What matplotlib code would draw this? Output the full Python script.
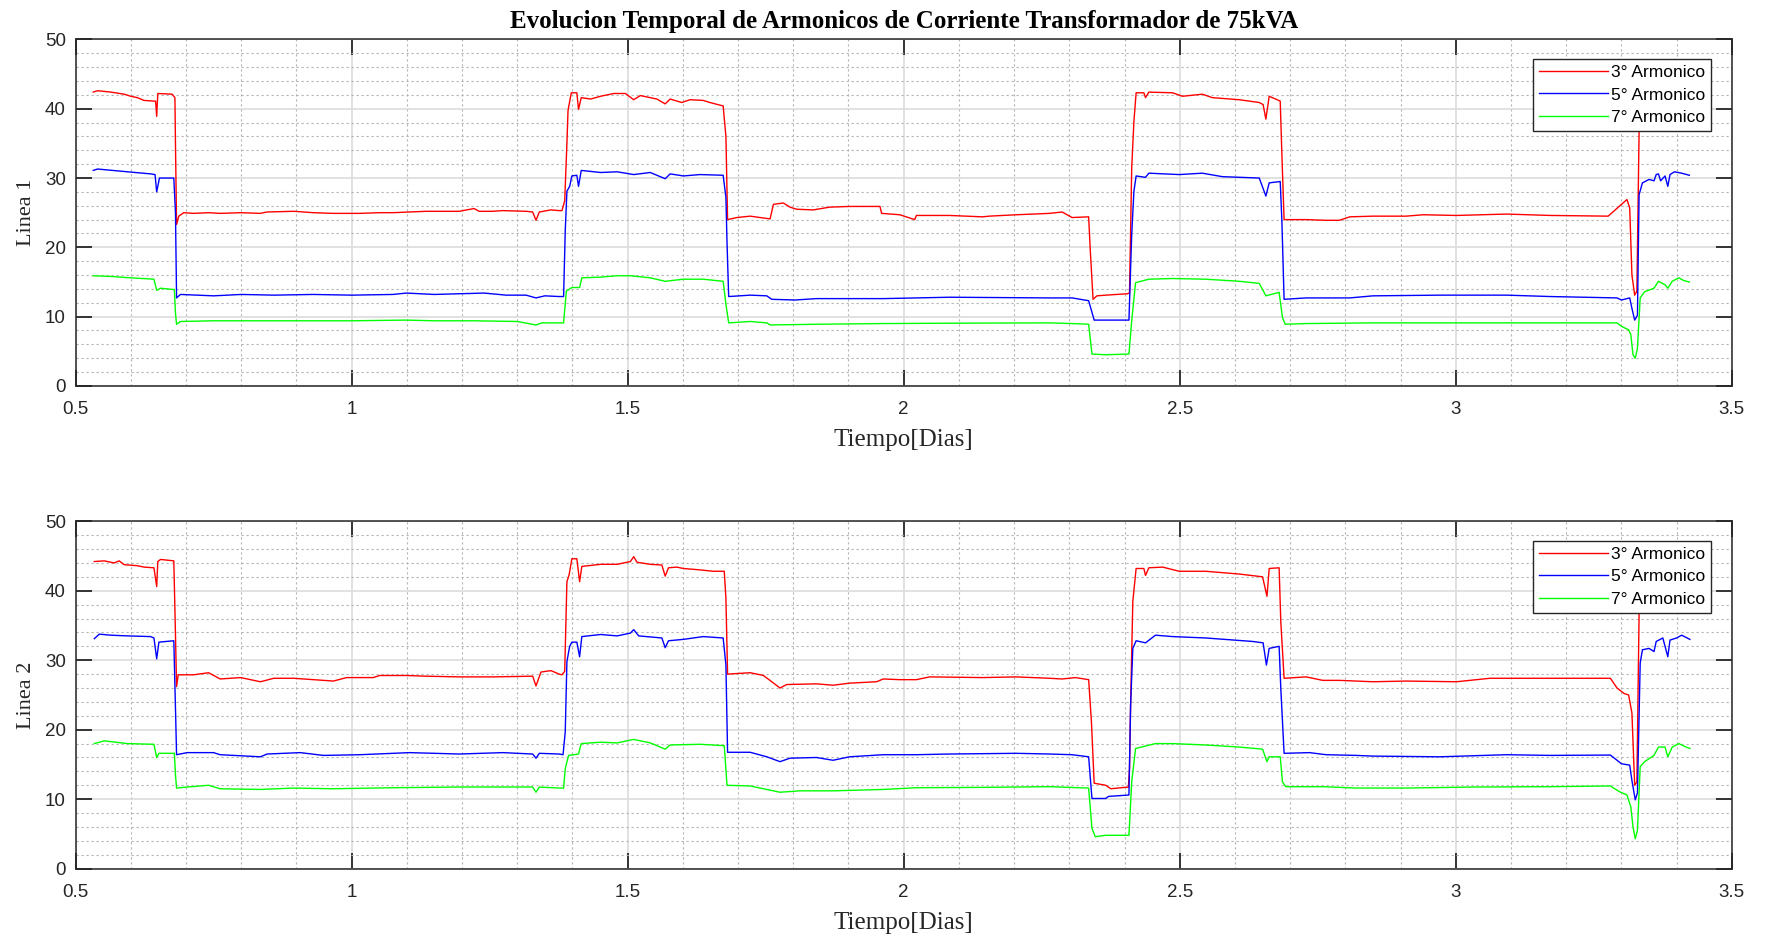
import matplotlib
matplotlib.use('Agg')
import matplotlib.pyplot as plt
from matplotlib.ticker import MultipleLocator, FormatStrFormatter

# Linea 1 - 3er armonico
l1_x3 = [0.532, 0.540, 0.552, 0.564, 0.588, 0.600, 0.612, 0.624, 0.642, 0.645, 0.647, 0.649, 0.675, 0.680,
         0.681, 0.683, 0.687, 0.696, 0.714, 0.741, 0.762, 0.799, 0.835, 0.847, 0.895, 0.931, 0.967, 1.015,
         1.051, 1.075, 1.105, 1.135, 1.195, 1.222, 1.231, 1.256, 1.274, 1.316, 1.328, 1.334, 1.340, 1.361,
         1.376, 1.381, 1.386, 1.390, 1.392, 1.393, 1.398, 1.408, 1.411, 1.416, 1.433, 1.451, 1.475, 1.496,
         1.511, 1.523, 1.553, 1.568, 1.577, 1.598, 1.613, 1.637, 1.649, 1.673, 1.678, 1.681, 1.698, 1.722,
         1.758, 1.764, 1.782, 1.794, 1.806, 1.836, 1.866, 1.902, 1.957, 1.960, 1.993, 2.020, 2.023, 2.083,
         2.143, 2.155, 2.204, 2.264, 2.287, 2.305, 2.335, 2.338, 2.343, 2.350, 2.366, 2.405, 2.409, 2.411,
         2.413, 2.417, 2.421, 2.435, 2.438, 2.444, 2.487, 2.505, 2.541, 2.559, 2.608, 2.644, 2.651, 2.656,
         2.662, 2.682, 2.685, 2.689, 2.729, 2.765, 2.789, 2.808, 2.850, 2.910, 2.941, 3.001, 3.092, 3.171,
         3.276, 3.296, 3.310, 3.315, 3.319, 3.324, 3.328, 3.332, 3.336, 3.423]
l1_y3 = [42.4, 42.6, 42.5, 42.4, 42.1, 41.8, 41.6, 41.2, 41.1, 41.1, 38.9, 42.2, 42.1, 41.6,
         35.0, 23.3, 24.5, 25.0, 24.9, 25.0, 24.9, 25.0, 24.9, 25.1, 25.2, 25.0, 24.9, 24.9,
         25.0, 25.0, 25.1, 25.2, 25.2, 25.6, 25.2, 25.2, 25.3, 25.2, 25.1, 23.9, 25.1, 25.4,
         25.3, 25.3, 26.7, 35.0, 39.7, 40.2, 42.3, 42.3, 39.9, 41.6, 41.4, 41.8, 42.2, 42.2,
         41.3, 41.9, 41.4, 40.7, 41.4, 40.9, 41.3, 41.2, 40.9, 40.4, 36.0, 24.0, 24.3, 24.5,
         24.1, 26.2, 26.4, 25.8, 25.5, 25.4, 25.8, 25.9, 25.9, 24.9, 24.7, 24.0, 24.6, 24.6,
         24.4, 24.5, 24.7, 24.9, 25.1, 24.3, 24.4, 19.5, 12.5, 13.0, 13.1, 13.3, 13.4, 22.4,
         31.5, 38.2, 42.3, 42.3, 41.6, 42.4, 42.3, 41.8, 42.1, 41.6, 41.3, 40.9, 40.6, 38.5,
         41.8, 41.1, 33.4, 24.0, 24.0, 23.9, 23.9, 24.4, 24.5, 24.5, 24.7, 24.6, 24.8, 24.6,
         24.5, 25.9, 26.9, 25.7, 16.0, 13.1, 13.7, 36.8, 42.0, 41.5]

# Linea 1 - 5to armonico
l1_x5 = [0.532, 0.540, 0.594, 0.636, 0.644, 0.647, 0.652, 0.678, 0.681, 0.683, 0.690, 0.750, 0.800, 0.860,
         0.930, 1.000, 1.075, 1.099, 1.150, 1.195, 1.240, 1.280, 1.316, 1.334, 1.350, 1.376, 1.384, 1.387,
         1.390, 1.395, 1.399, 1.408, 1.411, 1.416, 1.451, 1.481, 1.511, 1.541, 1.568, 1.577, 1.601, 1.631,
         1.673, 1.678, 1.680, 1.683, 1.722, 1.752, 1.761, 1.803, 1.842, 1.963, 2.083, 2.264, 2.305, 2.335,
         2.345, 2.408, 2.413, 2.417, 2.421, 2.438, 2.444, 2.499, 2.541, 2.577, 2.644, 2.656, 2.662, 2.682,
         2.685, 2.689, 2.729, 2.808, 2.850, 2.971, 3.092, 3.171, 3.292, 3.300, 3.315, 3.319, 3.324, 3.329,
         3.332, 3.338, 3.350, 3.359, 3.363, 3.367, 3.371, 3.379, 3.384, 3.388, 3.396, 3.409, 3.423]
l1_y5 = [31.1, 31.3, 30.9, 30.6, 30.5, 28.0, 30.0, 30.0, 25.0, 12.7, 13.2, 13.0, 13.2, 13.1,
         13.2, 13.1, 13.2, 13.4, 13.2, 13.3, 13.4, 13.1, 13.1, 12.7, 13.0, 12.9, 12.9, 22.4,
         28.1, 28.8, 30.3, 30.4, 28.8, 31.1, 30.8, 30.9, 30.5, 30.8, 29.9, 30.6, 30.3, 30.5,
         30.4, 27.2, 20.7, 12.9, 13.1, 13.0, 12.5, 12.4, 12.6, 12.6, 12.8, 12.7, 12.7, 12.3,
         9.5, 9.5, 21.9, 28.1, 30.3, 30.1, 30.7, 30.5, 30.7, 30.2, 30.0, 27.4, 29.3, 29.5,
         23.8, 12.5, 12.7, 12.7, 13.0, 13.1, 13.1, 12.9, 12.7, 12.4, 12.7, 11.2, 9.5, 10.2,
         27.6, 29.3, 29.8, 29.6, 30.5, 30.6, 29.6, 30.3, 28.8, 30.5, 30.9, 30.7, 30.4]

# Linea 1 - 7mo armonico
l1_x7 = [0.532, 0.564, 0.600, 0.642, 0.647, 0.654, 0.679, 0.681, 0.683, 0.690, 0.750, 0.835, 0.900, 1.000,
         1.099, 1.150, 1.222, 1.300, 1.334, 1.345, 1.376, 1.384, 1.389, 1.399, 1.413, 1.417, 1.451, 1.481,
         1.505, 1.541, 1.568, 1.601, 1.637, 1.673, 1.678, 1.683, 1.722, 1.752, 1.758, 1.842, 1.963, 2.083,
         2.264, 2.305, 2.335, 2.341, 2.366, 2.408, 2.413, 2.420, 2.444, 2.487, 2.547, 2.608, 2.644, 2.656,
         2.680, 2.686, 2.691, 2.729, 2.850, 3.153, 3.292, 3.300, 3.313, 3.317, 3.321, 3.325, 3.329, 3.334,
         3.342, 3.359, 3.367, 3.379, 3.384, 3.392, 3.404, 3.413, 3.423]
l1_y7 = [15.9, 15.8, 15.6, 15.4, 13.8, 14.1, 13.9, 10.5, 8.9, 9.3, 9.4, 9.4, 9.4, 9.4,
         9.5, 9.4, 9.4, 9.3, 8.8, 9.1, 9.1, 9.1, 13.7, 14.2, 14.2, 15.6, 15.7, 15.9,
         15.9, 15.6, 15.1, 15.4, 15.4, 15.1, 11.8, 9.1, 9.3, 9.1, 8.8, 8.9, 9.0, 9.05,
         9.1, 9.0, 8.9, 4.6, 4.5, 4.6, 9.4, 14.9, 15.4, 15.5, 15.4, 15.1, 14.8, 13.0,
         13.5, 9.9, 8.9, 9.0, 9.1, 9.1, 9.1, 8.6, 8.1, 7.4, 4.5, 4.0, 5.4, 12.7,
         13.6, 14.1, 15.1, 14.6, 14.1, 15.1, 15.6, 15.2, 15.0]

# Linea 2 - 3er armonico
l2_x3 = [0.534, 0.552, 0.570, 0.579, 0.588, 0.612, 0.624, 0.642, 0.647, 0.649, 0.654, 0.678, 0.681, 0.683,
         0.686, 0.714, 0.741, 0.762, 0.799, 0.835, 0.859, 0.895, 0.931, 0.967, 0.991, 1.039, 1.051, 1.099,
         1.135, 1.195, 1.256, 1.328, 1.334, 1.343, 1.361, 1.376, 1.381, 1.386, 1.390, 1.394, 1.399, 1.408,
         1.413, 1.417, 1.451, 1.481, 1.505, 1.511, 1.517, 1.541, 1.562, 1.568, 1.574, 1.589, 1.601, 1.631,
         1.655, 1.675, 1.678, 1.681, 1.722, 1.746, 1.776, 1.788, 1.842, 1.872, 1.902, 1.951, 1.963, 1.993,
         2.023, 2.047, 2.143, 2.204, 2.264, 2.287, 2.311, 2.335, 2.340, 2.345, 2.366, 2.375, 2.407, 2.409,
         2.411, 2.415, 2.421, 2.435, 2.438, 2.444, 2.469, 2.499, 2.547, 2.608, 2.650, 2.658, 2.662, 2.680,
         2.683, 2.689, 2.729, 2.759, 2.789, 2.850, 2.910, 3.001, 3.062, 3.171, 3.280, 3.292, 3.305, 3.313,
         3.319, 3.324, 3.328, 3.332, 3.338, 3.424]
l2_y3 = [44.2, 44.3, 44.0, 44.3, 43.75, 43.6, 43.4, 43.3, 40.6, 44.2, 44.5, 44.3, 33.7, 26.2,
         27.9, 27.9, 28.2, 27.3, 27.5, 26.9, 27.4, 27.4, 27.2, 27.0, 27.5, 27.5, 27.8, 27.8,
         27.7, 27.6, 27.6, 27.7, 26.3, 28.3, 28.5, 28.0, 27.9, 28.4, 41.3, 42.3, 44.6, 44.6,
         41.3, 43.5, 43.8, 43.8, 44.2, 44.9, 44.1, 43.8, 43.7, 42.1, 43.3, 43.4, 43.2, 43.0,
         42.8, 42.8, 38.9, 28.0, 28.2, 27.8, 26.0, 26.5, 26.6, 26.4, 26.7, 26.9, 27.3, 27.2,
         27.2, 27.6, 27.5, 27.6, 27.4, 27.3, 27.5, 27.2, 21.2, 12.3, 12.0, 11.5, 11.75, 14.4,
         23.6, 38.5, 43.2, 43.2, 42.2, 43.3, 43.4, 42.8, 42.8, 42.4, 42.0, 39.2, 43.2, 43.3,
         35.6, 27.4, 27.6, 27.1, 27.1, 26.9, 27.0, 26.9, 27.4, 27.4, 27.4, 26.0, 25.2, 25.0,
         22.4, 12.0, 12.5, 36.8, 43.0, 43.0]

# Linea 2 - 5to armonico
l2_x5 = [0.534, 0.543, 0.564, 0.594, 0.636, 0.642, 0.647, 0.651, 0.678, 0.681, 0.683, 0.702, 0.750, 0.762,
         0.835, 0.847, 0.907, 0.949, 1.015, 1.105, 1.195, 1.274, 1.328, 1.334, 1.340, 1.376, 1.383, 1.387,
         1.390, 1.395, 1.399, 1.408, 1.413, 1.417, 1.451, 1.481, 1.505, 1.511, 1.520, 1.562, 1.568, 1.574,
         1.601, 1.637, 1.673, 1.678, 1.681, 1.722, 1.752, 1.776, 1.794, 1.842, 1.872, 1.902, 1.963, 2.023,
         2.083, 2.204, 2.264, 2.305, 2.335, 2.341, 2.366, 2.371, 2.408, 2.411, 2.415, 2.421, 2.438, 2.456,
         2.487, 2.547, 2.632, 2.651, 2.657, 2.662, 2.680, 2.683, 2.689, 2.735, 2.765, 2.820, 2.850, 2.971,
         3.092, 3.171, 3.280, 3.300, 3.315, 3.319, 3.325, 3.329, 3.334, 3.338, 3.350, 3.359, 3.363, 3.375,
         3.384, 3.388, 3.400, 3.409, 3.424]
l2_y5 = [33.1, 33.75, 33.6, 33.5, 33.4, 33.2, 30.2, 32.6, 32.8, 23.1, 16.4, 16.7, 16.7, 16.4,
         16.1, 16.5, 16.7, 16.3, 16.4, 16.7, 16.5, 16.7, 16.5, 15.9, 16.6, 16.5, 16.4, 19.7,
         29.8, 32.0, 32.6, 32.6, 30.5, 33.4, 33.7, 33.5, 33.9, 34.4, 33.5, 33.2, 31.8, 32.8,
         33.0, 33.4, 33.2, 29.3, 16.75, 16.75, 16.1, 15.4, 15.9, 16.0, 15.6, 16.1, 16.4, 16.4,
         16.5, 16.6, 16.5, 16.4, 16.1, 10.1, 10.1, 10.4, 10.6, 23.6, 31.7, 32.8, 32.5, 33.6,
         33.4, 33.2, 32.7, 32.5, 29.3, 31.7, 32.0, 26.0, 16.6, 16.7, 16.4, 16.3, 16.2, 16.1,
         16.4, 16.3, 16.35, 15.1, 14.9, 12.7, 9.9, 10.9, 29.6, 31.5, 31.7, 31.25, 32.7, 33.2,
         30.5, 32.9, 33.2, 33.6, 33.0]

# Linea 2 - 7mo armonico
l2_x7 = [0.534, 0.552, 0.594, 0.642, 0.647, 0.651, 0.679, 0.681, 0.683, 0.702, 0.741, 0.762, 0.835, 0.895,
         0.967, 1.075, 1.195, 1.328, 1.334, 1.340, 1.376, 1.384, 1.387, 1.393, 1.411, 1.416, 1.451, 1.481,
         1.511, 1.541, 1.568, 1.577, 1.631, 1.675, 1.680, 1.722, 1.746, 1.776, 1.812, 1.872, 1.963, 2.023,
         2.143, 2.264, 2.335, 2.341, 2.347, 2.366, 2.408, 2.413, 2.420, 2.456, 2.487, 2.547, 2.608, 2.650,
         2.658, 2.662, 2.682, 2.686, 2.692, 2.759, 2.820, 2.910, 3.031, 3.171, 3.280, 3.296, 3.310, 3.317,
         3.321, 3.325, 3.329, 3.334, 3.342, 3.359, 3.367, 3.379, 3.384, 3.392, 3.404, 3.417, 3.424]
l2_y7 = [18.0, 18.4, 18.0, 17.9, 16.0, 16.6, 16.6, 13.5, 11.6, 11.75, 12.0, 11.5, 11.4, 11.6,
         11.5, 11.65, 11.75, 11.75, 11.0, 11.75, 11.6, 11.6, 14.4, 16.3, 16.5, 18.0, 18.2, 18.1,
         18.6, 18.1, 17.2, 17.8, 17.9, 17.7, 12.0, 11.9, 11.5, 11.0, 11.2, 11.2, 11.4, 11.65,
         11.7, 11.8, 11.6, 5.8, 4.6, 4.8, 4.8, 12.5, 17.3, 18.0, 18.0, 17.8, 17.5, 17.2,
         15.4, 16.1, 16.1, 12.5, 11.8, 11.8, 11.6, 11.6, 11.75, 11.8, 11.9, 11.1, 10.6, 8.9,
         6.0, 4.3, 5.5, 14.7, 15.4, 16.3, 17.5, 17.5, 16.1, 17.5, 18.0, 17.5, 17.3]

series_labels = ['3° Armonico', '5° Armonico', '7° Armonico']
series_colors = ['#ff0000', '#0000ff', '#00ff00']

panels = [
    ('Linea 1', [(l1_x3, l1_y3), (l1_x5, l1_y5), (l1_x7, l1_y7)]),
    ('Linea 2', [(l2_x3, l2_y3), (l2_x5, l2_y5), (l2_x7, l2_y7)]),
]

axis_color = '#262626'
tick_font = 'Liberation Sans'
label_font = 'Liberation Serif'

fig = plt.figure(figsize=(17.69, 9.39), dpi=100)
ax_top = fig.add_axes([0.0427, 0.589, 0.9363, 0.369])
ax_bot = fig.add_axes([0.0427, 0.0749, 0.9363, 0.370])

for ax, (ylab, data) in zip([ax_top, ax_bot], panels):
    for (xs, ys), lab, col in zip(data, series_labels, series_colors):
        ax.plot(xs, ys, color=col, lw=1.0, label=lab)
    ax.set_xlim(0.5, 3.5)
    ax.set_ylim(0, 50)
    ax.xaxis.set_major_locator(MultipleLocator(0.5))
    ax.xaxis.set_minor_locator(MultipleLocator(0.1))
    ax.yaxis.set_major_locator(MultipleLocator(10))
    ax.yaxis.set_minor_locator(MultipleLocator(2))
    ax.xaxis.set_major_formatter(FormatStrFormatter('%g'))
    ax.grid(which='major', color='#dcdcdc', lw=1.2, ls='-')
    ax.grid(which='minor', color='#b4b4b4', lw=0.8, ls=(0, (2, 2.5)))
    ax.set_axisbelow(True)
    ax.tick_params(which='major', direction='in', length=11.5, width=1.3, color=axis_color,
                   top=True, right=True, labelsize=13.5, labelcolor=axis_color)
    ax.tick_params(axis='x', which='major', pad=11)
    ax.tick_params(axis='y', which='major', pad=7)
    ax.tick_params(which='minor', length=0)
    for lbl in ax.get_xticklabels() + ax.get_yticklabels():
        lbl.set_fontfamily(tick_font)
    for sp in ax.spines.values():
        sp.set_color(axis_color)
        sp.set_linewidth(1.1)
    ax.set_xlabel('Tiempo[Dias]', fontsize=18, family=label_font, color=axis_color, labelpad=8)
    ax.set_ylabel(ylab, fontsize=16, family=label_font, color=axis_color, labelpad=6)
    leg = ax.legend(loc='upper right', bbox_to_anchor=(0.9875, 0.944), borderaxespad=0,
                    fancybox=False, framealpha=1, edgecolor=axis_color, handlelength=4.0,
                    handletextpad=0.15, labelspacing=0.42, borderpad=0.35,
                    prop={'family': tick_font, 'size': 12.5})
    leg.get_frame().set_linewidth(1.0)
    leg.set_zorder(5)

ax_top.set_title('Evolucion Temporal de Armonicos de Corriente Transformador de 75kVA',
                 fontsize=18, fontweight='bold', family=label_font, pad=8)

fig.savefig('out.png', dpi=100)
